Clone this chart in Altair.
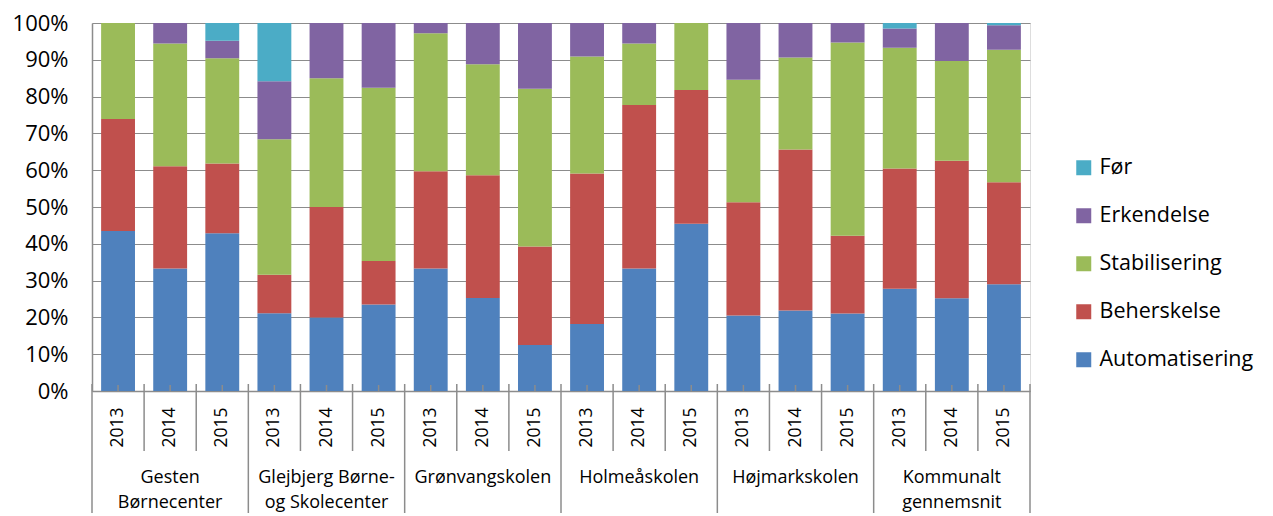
import altair as alt
import pandas as pd

groups = ["Gesten\nBørnecenter", "Glejbjerg Børne-\nog Skolecenter", "Grønvangskolen",
          "Holmeåskolen", "Højmarkskolen", "Kommunalt\ngennemsnit"]
years = ["2013", "2014", "2015"]
series = ["Før", "Erkendelse", "Stabilisering", "Beherskelse", "Automatisering"]
colors = ["#4BACC6", "#8064A2", "#9BBB59", "#C0504D", "#4F81BD"]

automatisering = [43.5, 33.3, 42.9, 21.1, 20.0, 23.5, 33.3, 25.3, 12.5, 18.2, 33.3, 45.5, 20.5, 21.9, 21.1, 27.8, 25.2, 29.0]
beherskelse = [30.4, 27.8, 19.0, 10.5, 30.0, 11.8, 26.4, 33.3, 26.8, 40.9, 44.4, 36.4, 30.8, 43.8, 21.1, 32.7, 37.4, 27.7]
stabilisering = [26.1, 33.3, 28.6, 36.8, 35.0, 47.1, 37.5, 30.2, 42.9, 31.8, 16.7, 18.2, 33.3, 25.0, 52.6, 32.9, 27.1, 36.0]
erkendelse = [0, 5.6, 4.8, 15.8, 15.0, 17.6, 2.8, 11.2, 17.9, 9.1, 5.6, 0, 15.4, 9.4, 5.3, 5.2, 10.3, 6.7]
foer = [0, 0, 4.8, 15.8, 0, 0, 0, 0, 0, 0, 0, 0, 0, 0, 0, 1.5, 0, 0.6]

values_by_series = {
    "Automatisering": automatisering,
    "Beherskelse": beherskelse,
    "Stabilisering": stabilisering,
    "Erkendelse": erkendelse,
    "Før": foer,
}
stack_order = {"Automatisering": 0, "Beherskelse": 1, "Stabilisering": 2, "Erkendelse": 3, "Før": 4}

keys = [f"{gi}|{y}" for gi in range(len(groups)) for y in years]
rows = []
for s, vals in values_by_series.items():
    for k, v in zip(keys, vals):
        rows.append({"key": k, "serie": s, "value": v, "ord": stack_order[s]})
df = pd.DataFrame(rows)

n = len(keys)
bounds = pd.DataFrame({"b": list(range(n + 1))})
bounds["group_edge"] = bounds["b"] % 3 == 0
group_df = pd.DataFrame({"g": [i * 3 + 1.5 for i in range(len(groups))], "label": groups})
center_df = pd.DataFrame({"key": keys})

W, H = 938, 368
FONT = "Open Sans"
GRID = "#8C8C8C"

xband = alt.X("key:N", sort=keys,
              scale=alt.Scale(domain=keys, paddingInner=0.35, paddingOuter=0.175),
              axis=alt.Axis(title=None, labelAngle=-90, labelExpr="split(datum.label, '|')[1]",
                            labelFontSize=17.5, labelFont=FONT, labelColor="black",
                            labelPadding=16, ticks=False, domainColor=GRID, domainWidth=1.5,
                            grid=False))

bars = alt.Chart(df).mark_bar().encode(
    x=xband,
    y=alt.Y("value:Q", stack="normalize",
            scale=alt.Scale(domain=[0, 1]),
            axis=alt.Axis(title=None, format=".0%", values=[i / 10 for i in range(11)],
                          labelFontSize=22, labelFont=FONT, labelColor="black",
                          labelPadding=24, ticks=False, domainColor=GRID, domainWidth=1.5,
                          gridColor=GRID, gridWidth=1.2, gridOpacity=1)),
    color=alt.Color("serie:N", scale=alt.Scale(domain=series, range=colors),
                    legend=alt.Legend(title=None, orient="none", legendX=981, legendY=134,
                                      symbolType="square", symbolSize=225, symbolStrokeWidth=0,
                                      labelFontSize=21.5, labelFont=FONT, labelColor="black",
                                      labelLimit=0, labelOffset=5, rowPadding=25, padding=0)),
    order=alt.Order("ord:Q", sort="ascending"),
)

center_ticks = alt.Chart(center_df).mark_rule(color=GRID, strokeWidth=1.5).encode(
    x=alt.X("key:N", sort=keys, scale=alt.Scale(domain=keys, paddingInner=0.35, paddingOuter=0.175), axis=None),
    y=alt.value(H - 6),
    y2=alt.value(H),
)

xq = alt.X("b:Q", scale=alt.Scale(domain=[0, n], nice=False, zero=False), axis=None)
sep_short = alt.Chart(bounds).transform_filter("!datum.group_edge").mark_rule(
    color=GRID, strokeWidth=1.5).encode(x=xq, y=alt.value(H - 7), y2=alt.value(H + 60))
sep_long = alt.Chart(bounds).transform_filter("datum.group_edge").mark_rule(
    color=GRID, strokeWidth=1.5).encode(x=xq, y=alt.value(H - 7), y2=alt.value(H + 140))

group_text = alt.Chart(group_df).mark_text(
    fontSize=18, font=FONT, color="black", baseline="top", align="center",
    lineBreak="\n", lineHeight=25).encode(
    x=alt.X("g:Q", scale=alt.Scale(domain=[0, n], nice=False, zero=False), axis=None),
    y=alt.value(H + 78),
    text="label:N",
)

chart = alt.layer(bars, center_ticks, sep_short, sep_long, group_text).resolve_scale(
    x="independent"
).properties(
    width=W, height=H,
    autosize=alt.AutoSizeParams(type="none"),
    padding={"left": 84, "top": 15, "right": 235, "bottom": 122},
).configure_view(stroke=None).configure(font=FONT)

chart.save("out.html", embed_options={"renderer": "svg", "actions": False})
